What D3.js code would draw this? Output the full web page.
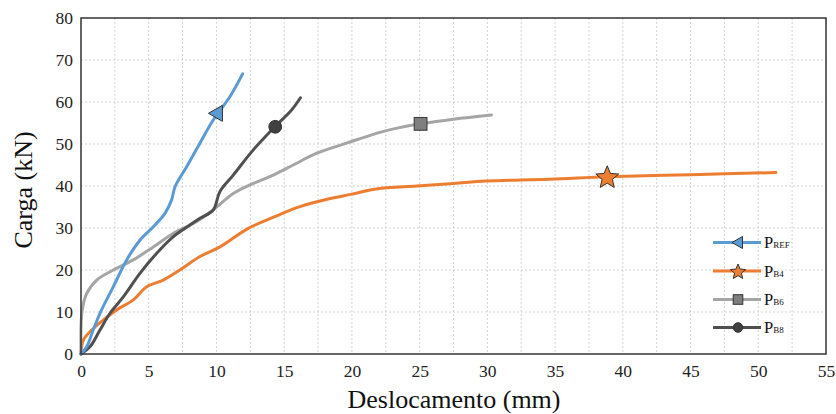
<!DOCTYPE html>
<html><head><meta charset="utf-8">
<script src="https://cdn.jsdelivr.net/npm/d3@7"></script>
<style>body{margin:0;background:#fff}svg{display:block}svg text{font-family:"Liberation Serif","Times New Roman",serif !important}</style>
</head><body><svg id="c" width="836" height="414"></svg>
<script>
const xTicks = [0,5,10,15,20,25,30,35,40,45,50,55];
const yTicks = [0,10,20,30,40,50,60,70,80];
const seriesNames = ["REF","B4","B6","B8"];
const pRefX = [0,0.42,0.9,1.4,2.38,3.37,4.35,5.34,6.2,6.69,6.94,7.8,8.78,9.76,11.0,11.93];
const pRefY = [0,1.7,5.7,9.7,16,22.4,27.1,30.3,33.5,36.7,39.8,44.6,50.2,55.7,61.3,66.7];
const pB4X = [0,0.17,0.79,1.65,2.63,3.86,4.85,6.07,7.3,8.78,10.26,12.35,14.44,16.16,18.1,19.9,21.8,24.8,27.5,29.9,34.6,38.85,45,51.3];
const pB4Y = [0,3.3,5.7,8.1,10.5,12.9,16,17.6,20,23.2,25.5,29.9,32.9,35.1,36.8,38.0,39.3,40,40.6,41.2,41.6,42.2,42.7,43.2];
const pB6X = [0,0.07,0.42,1.16,2.38,3.86,5.34,6.8,8.29,9.76,11.24,12.72,14.2,15.67,17.4,19.6,22.2,23.5,25.07,27.5,30.3];
const pB6Y = [0,10,14.4,17.6,20,22.4,25.5,28.7,31.1,34.3,38.2,40.6,42.6,45,47.8,50.2,52.9,53.9,54.8,55.9,56.9];
const pB8X = [0,0.66,1.4,2.14,3.12,4.35,5.59,6.8,8.04,8.78,9.76,10.26,11.24,12.72,14.34,15.55,16.2];
const pB8Y = [0,1.7,5.7,9.7,13.6,19.2,24,27.9,30.7,32.3,34.3,38.7,42.6,48.6,54.2,58.1,61];
const markerX = [10.0,38.85,25.07,14.34];
const markerY = [57.3,42.2,54.8,54.1];

const svg = d3.select("#c");
const L=81,R=826,T=18,B=354;
const x = d3.scaleLinear().domain([0,55]).range([L,R]);
const y = d3.scaleLinear().domain([0,80]).range([B,T]);

// grid
const g = svg.append("g");
g.selectAll(".vg").data(d3.range(2.5,55,2.5)).enter().append("line")
 .attr("x1",d=>x(d)).attr("x2",d=>x(d)).attr("y1",T).attr("y2",B)
 .attr("stroke","#c8c8c8").attr("stroke-width",0.8).attr("stroke-dasharray","2,2");
g.selectAll(".hg").data(yTicks.slice(1,-1)).enter().append("line")
 .attr("x1",L).attr("x2",R).attr("y1",d=>y(d)).attr("y2",d=>y(d))
 .attr("stroke","#c8c8c8").attr("stroke-width",0.8).attr("stroke-dasharray","2,2");

// axes
const xa = svg.append("g").attr("transform",`translate(0,${B})`)
 .call(d3.axisBottom(x).tickValues(xTicks).tickSize(0).tickPadding(11));
const ya = svg.append("g").attr("transform",`translate(${L},0)`)
 .call(d3.axisLeft(y).tickValues(yTicks).tickSize(0).tickPadding(8));
[xa,ya].forEach(a=>{a.attr("font-family",null).attr("font-size",null);a.select(".domain").remove();a.selectAll("text").attr("font-size",17.5).attr("fill","#222");});

const colors = ["#5B9BD5","#ED7D31","#A5A5A5","#505050"];
const markFill = ["#5B9BD5","#ED7D31","#7F7F7F","#404040"];
const data = [[pRefX,pRefY],[pB4X,pB4Y],[pB6X,pB6Y],[pB8X,pB8Y]];
const drawOrder=[1,2,3,0];
drawOrder.forEach(i=>{
  const pts = data[i][0].map((v,k)=>[v,data[i][1][k]]);
  svg.append("path").datum(pts).attr("d",d3.line().x(d=>x(d[0])).y(d=>y(d[1])).curve(d3.curveCatmullRom.alpha(0.5)))
   .attr("fill","none").attr("stroke",colors[i]).attr("stroke-width",3).attr("stroke-linejoin","round").attr("stroke-linecap","round");
});

function starPath(cx,cy,r){
  let p=[];
  for(let k=0;k<10;k++){const a=-Math.PI/2+k*Math.PI/5;const rr=k%2?r*0.45:r;p.push([cx+rr*Math.cos(a),cy+rr*Math.sin(a)]);}
  return "M"+p.map(q=>q.join(",")).join("L")+"Z";
}
function marker(sel,i,cx,cy,s){
  const st={fill:markFill[i],stroke:"#333","stroke-width":1};
  let el;
  if(i===0){ el=sel.append("path").attr("d",`M${cx-s},${cy} L${cx+s*0.75},${cy-s} L${cx+s*0.75},${cy+s} Z`);}
  else if(i===1){ el=sel.append("path").attr("d",starPath(cx,cy+1,s));}
  else if(i===2){ el=sel.append("rect").attr("x",cx-s*0.8).attr("y",cy-s*0.8).attr("width",s*1.6).attr("height",s*1.6);}
  else { el=sel.append("circle").attr("cx",cx).attr("cy",cy).attr("r",s*0.8);}
  Object.entries(st).forEach(([k,v])=>el.attr(k,v));
}
[0,1,2,3].forEach(i=>marker(svg,i,x(markerX[i]),y(markerY[i]),i===1?12:8));

// frame
svg.append("rect").attr("x",L).attr("y",T).attr("width",R-L).attr("height",B-T)
 .attr("fill","none").attr("stroke","#333").attr("stroke-width",1.5);

// titles
svg.append("text").attr("x",454).attr("y",408).attr("text-anchor","middle").attr("font-size",26).attr("fill","#111").text("Deslocamento (mm)");
svg.append("text").attr("transform","translate(32,190) rotate(-90)").attr("text-anchor","middle").attr("font-size",26).attr("fill","#111").text("Carga (kN)");

// legend
const lg = svg.append("g");
const rowsY=[242.5,271,299.5,327.5];
seriesNames.forEach((n,i)=>{
  const yy=rowsY[i];
  lg.append("line").attr("x1",713).attr("x2",761).attr("y1",yy).attr("y2",yy).attr("stroke",colors[i]).attr("stroke-width",3);
  marker(lg,i,738,yy,i===1?8:6);
  const t=lg.append("text").attr("x",764).attr("y",yy+5.5).attr("font-size",16.5).attr("fill","#111");
  t.append("tspan").text("P");
  t.append("tspan").attr("font-size",9).text(n);
});
</script></body></html>
